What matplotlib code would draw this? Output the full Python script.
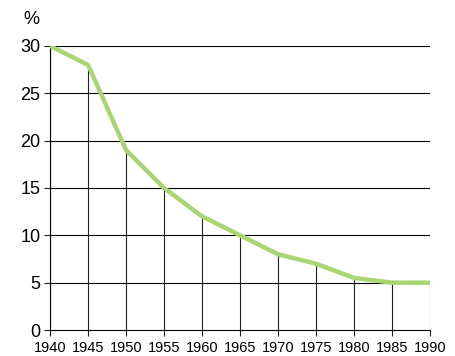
import matplotlib
matplotlib.use("Agg")
import matplotlib.pyplot as plt

years = [1940, 1945, 1950, 1955, 1960, 1965, 1970, 1975, 1980, 1985, 1990]
share = [30, 28, 19, 15, 12, 10, 8, 7, 5.5, 5, 5]
y_ticks = [0, 5, 10, 15, 20, 25, 30]

fig = plt.figure(figsize=(4.55, 3.56), dpi=100)
ax = fig.add_axes([0.110, 0.073, 0.835, 0.798])

# horizontal grid lines across the full year range
for v in y_ticks[1:]:
    ax.plot([years[0], years[-1]], [v, v], color="black", lw=0.8, zorder=1)

# drop lines from the baseline up to each value
ax.vlines(years, 0, share, color="#222222", lw=0.8, zorder=1)

ax.plot(years, share, color="#a8d672", lw=3.2, solid_capstyle="round",
        solid_joinstyle="round", zorder=3)

ax.set_xlim(years[0], years[-1])
ax.set_ylim(0, 30)
ax.set_xticks(years)
ax.set_yticks(y_ticks)
ax.set_xticklabels([str(y) for y in years], family="Liberation Sans", fontsize=10.5)
ax.set_yticklabels([str(v) for v in y_ticks], family="Liberation Sans", fontsize=13)
ax.tick_params(axis="both", length=4, width=0.8, color="#222222")
ax.tick_params(axis="y", pad=3)
ax.tick_params(axis="x", pad=4)

for side in ["top", "right"]:
    ax.spines[side].set_visible(False)
ax.spines["left"].set_linewidth(0.8)
ax.spines["bottom"].set_linewidth(0.8)
ax.patch.set_visible(False)
for s in ax.spines.values():
    s.set_clip_on(False)

fig.text(0.070, 0.944, "%", family="Liberation Sans", fontsize=13, ha="center", va="center")

fig.savefig("out.png", dpi=100)
